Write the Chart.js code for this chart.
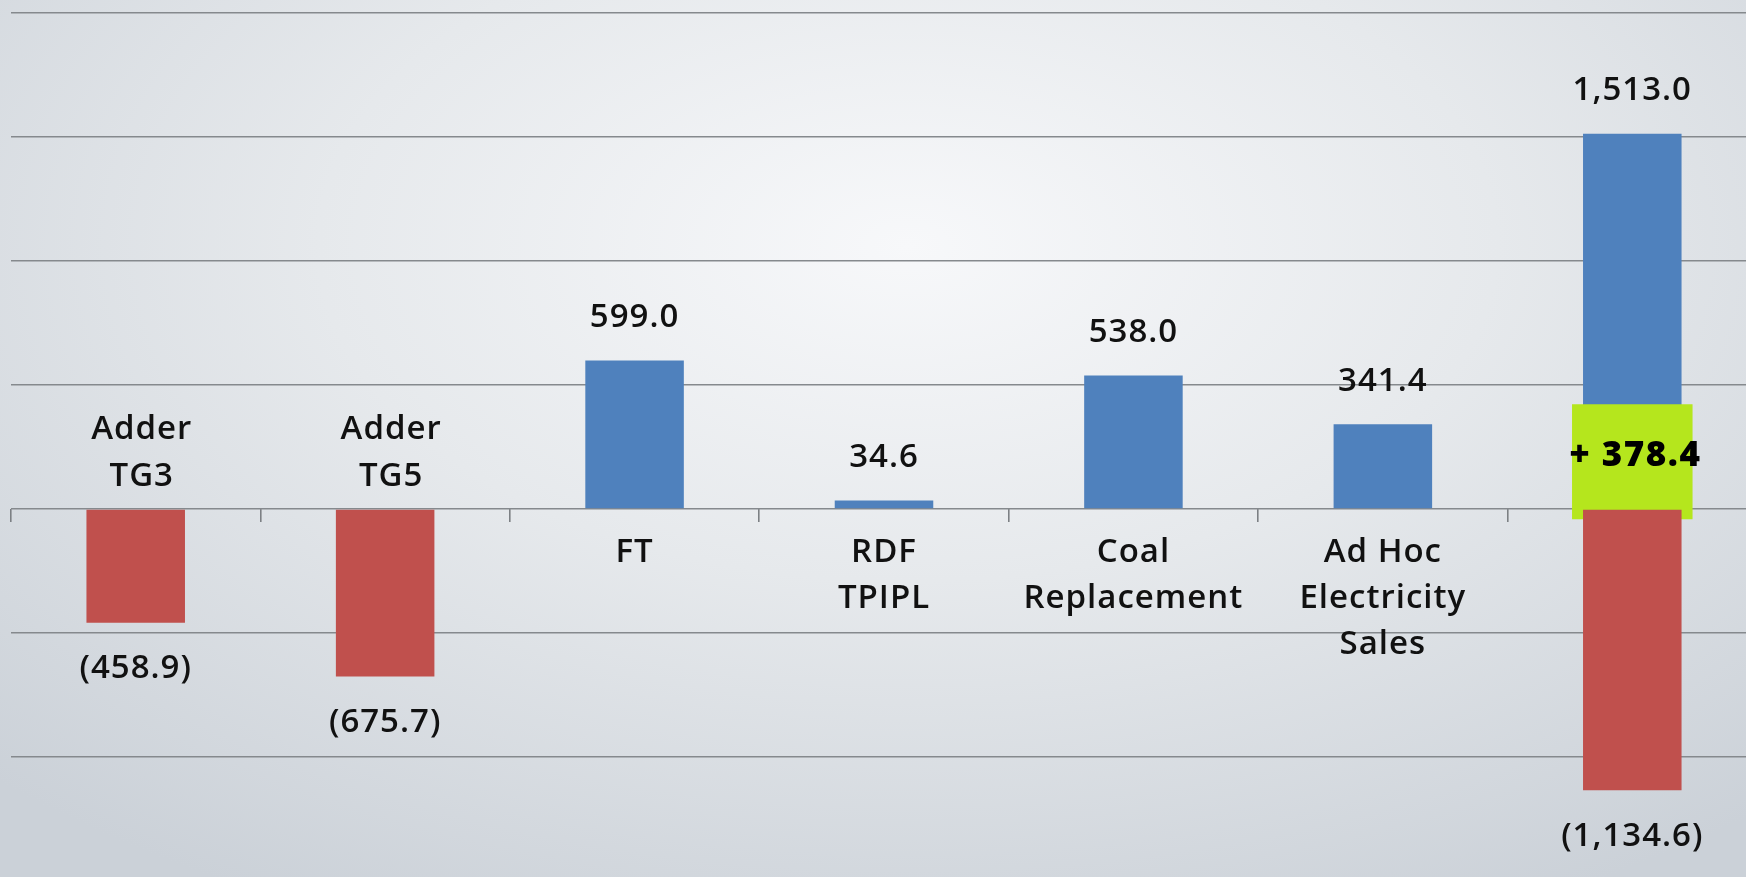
<!DOCTYPE html>
<html>
<head>
<meta charset="utf-8">
<script src="https://cdn.jsdelivr.net/npm/chart.js@4.4.1/dist/chart.umd.min.js"></script>
<style>
  html, body { margin: 0; padding: 0; overflow: hidden; }
  body {
    width: 1746px; height: 877px;
    background: radial-gradient(ellipse 75% 85% at 52% 28%, #f7f8fa 0%, #e6e9ec 45%, #cbd1d8 100%);
  }
  #wrap { position: absolute; left: 0; top: 0; }
</style>
</head>
<body>
<div id="wrap"><canvas id="bridgeChart" width="1757" height="877"></canvas></div>
<script>
// categories (multi-line labels), last column is the total bridge
const categories = [['Adder', 'TG3'], ['Adder', 'TG5'], ['FT'], ['RDF', 'TPIPL'], ['Coal', 'Replacement'], ['Ad Hoc', 'Electricity', 'Sales'], ''];
const increases = [null, null, 599.0, 34.6, 538.0, 341.4, 1513.0];
const decreases = [-458.9, -675.7, null, null, null, null, -1134.6];
const netChange = [null, null, null, null, null, null, 378.4];

const yMin = -1484;
const yMax = 2000;
const gridStep = 500;

const labelFont = '600 33px "Open Sans"';
const netFont = '800 35px "Open Sans"';

function fmt(v) {
    const s = Math.abs(v).toLocaleString('en-US', { minimumFractionDigits: 1, maximumFractionDigits: 1 });
    return v < 0 ? '(' + s + ')' : s;
}

//draws values and category names next to the bars
const bridgeLabels = {
    id: 'bridgeLabels',
    afterDatasetsDraw(chart) {
        const ctx = chart.ctx;
        const x = chart.scales.x;
        const y = chart.scales.y;
        const zero = y.getPixelForValue(0);
        ctx.save();
        ctx.fillStyle = '#111';
        ctx.textAlign = 'center';
        ctx.textBaseline = 'middle';
        ctx.font = labelFont;
        ctx.letterSpacing = '1px';

        categories.forEach(function(cat, i) {
            const cx = x.getPixelForValue(i);
            if (increases[i] != null) {
                ctx.fillText(fmt(increases[i]), cx, y.getPixelForValue(increases[i]) - 43);
            }
            if (decreases[i] != null) {
                ctx.fillText(fmt(decreases[i]), cx, y.getPixelForValue(decreases[i]) + 46);
            }
            if (!cat) return;
            if (increases[i] != null) {
                cat.forEach(function(line, k) {
                    ctx.fillText(line, cx, zero + 44 + k * 46);
                });
            } else {
                const n = cat.length;
                cat.forEach(function(line, k) {
                    ctx.fillText(line, cx + 6, zero - 32 - (n - 1 - k) * 47);
                });
            }
        });

        // net change label inside the green box
        ctx.font = netFont;
        ctx.letterSpacing = '1.5px';
        ctx.fillStyle = '#000';
        netChange.forEach(function(v, i) {
            if (v == null) return;
            const top = y.getPixelForValue(v) - 12;
            ctx.fillText('+ ' + fmt(v), x.getPixelForValue(i) + 3, (top + zero) / 2);
        });
        ctx.restore();
    }
};

const ctx = document.getElementById('bridgeChart');

const bridge = new Chart(ctx, {
    type: 'bar',
    data: {
        labels: categories,
        datasets: [{
            label: 'Decrease',
            data: decreases,
            backgroundColor: '#c0504d',
            barPercentage: 0.395,
            categoryPercentage: 1,
            order: 0
        }, {
            label: 'Net',
            data: netChange,
            backgroundColor: '#b5e61d',
            barPercentage: 0.395,
            categoryPercentage: 1,
            inflateAmount: 11,
            order: 1
        }, {
            label: 'Increase',
            data: increases,
            backgroundColor: '#4f81bd',
            barPercentage: 0.395,
            categoryPercentage: 1,
            order: 2
        }]
    },
    options: {
        responsive: false,
        animation: false,
        grouped: false,
        layout: {
            padding: { left: 11, top: 13, right: 0, bottom: 0 }
        },
        plugins: {
            legend: { display: false },
            tooltip: { enabled: false }
        },
        scales: {
            x: {
                position: { y: 0 },
                ticks: { display: false },
                grid: {
                    offset: true,
                    drawOnChartArea: false,
                    drawTicks: true,
                    tickLength: 13,
                    color: '#7c8084',
                    lineWidth: 1.6
                },
                border: { display: false }
            },
            y: {
                min: yMin,
                max: yMax,
                ticks: { display: false },
                afterBuildTicks: function(scale) {
                    const t = [];
                    for (let v = Math.ceil(yMin / gridStep) * gridStep; v <= yMax; v += gridStep) {
                        t.push({ value: v });
                    }
                    scale.ticks = t;
                },
                grid: {
                    drawTicks: false,
                    color: '#85898d',
                    lineWidth: 1.6
                },
                border: { display: false }
            }
        }
    },
    plugins: [bridgeLabels]
});
</script>
</body>
</html>
